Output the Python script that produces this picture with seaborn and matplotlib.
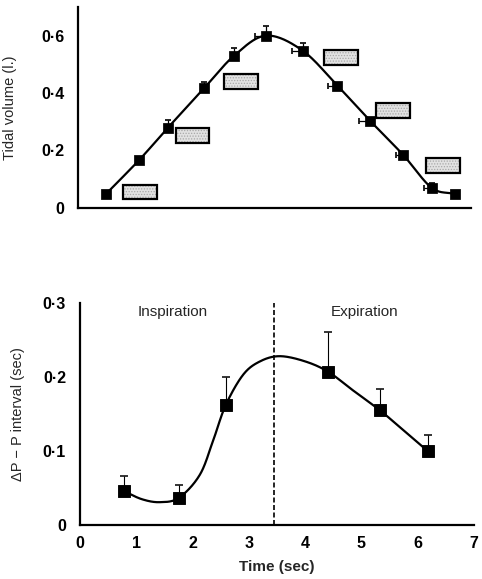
import numpy as np
import pandas as pd
import matplotlib
matplotlib.use("Agg")
import matplotlib.pyplot as plt
from matplotlib.patches import Rectangle
import seaborn as sns

sns.set_theme(style="white")
plt.rcParams['font.family'] = ['Liberation Sans', 'DejaVu Sans']
plt.rcParams['hatch.linewidth'] = 0.6

# ---- Upper panel: tidal volume over the breath ----
vol_time = [0.50, 1.09, 1.60, 2.25, 2.78, 3.35, 4.00, 4.62, 5.20, 5.79, 6.30, 6.71]
vol_litre = [0.049, 0.167, 0.279, 0.418, 0.530, 0.600, 0.548, 0.426, 0.304, 0.185, 0.070, 0.049]
vol_err_up = [0, 0, 0.028, 0.022, 0.028, 0.035, 0.028, 0, 0, 0, 0.017, 0]
vol_err_left = [0, 0, 0, 0, 0, 0.20, 0.19, 0.17, 0.19, 0.12, 0.14, 0]

# shaded boxes: left edge (sec), bottom (l.)
box_left = [0.80, 1.74, 2.60, 4.39, 5.31, 6.20]
box_bottom = [0.031, 0.227, 0.415, 0.499, 0.314, 0.122]
box_w = 0.60
box_h = 0.050

# ---- Lower panel: change in P-P interval ----
pp_time = [0.78, 1.76, 2.59, 4.41, 5.33, 6.18]
pp_delta = [0.046, 0.037, 0.162, 0.207, 0.155, 0.100]
pp_err_up = [0.020, 0.017, 0.038, 0.053, 0.029, 0.021]

# fitted curve through the P-P data
pp_curve_t = [0.78, 1.10, 1.42, 1.76, 2.13, 2.37, 2.59, 2.90, 3.20, 3.55, 4.00, 4.41, 4.85, 5.33, 5.75, 6.18]
pp_curve_v = [0.046, 0.035, 0.031, 0.037, 0.068, 0.115, 0.162, 0.203, 0.221, 0.228, 0.221, 0.207, 0.182, 0.155, 0.128, 0.100]

phase_boundary = 3.45
phase_labels = ["Inspiration", "Expiration"]
phase_label_x = [1.65, 5.06]

vol_ticks = [0, 0.2, 0.4, 0.6]
vol_ticklabels = ["0", "0·2", "0·4", "0·6"]
pp_ticks = [0, 0.1, 0.2, 0.3]
pp_ticklabels = ["0", "0·1", "0·2", "0·3"]
time_ticks = [0, 1, 2, 3, 4, 5, 6, 7]


def smooth(xs, ys, n=30):
    """Catmull-Rom spline through the given knots (for a smooth drawn line)."""
    x = np.asarray(xs, float)
    y = np.asarray(ys, float)
    px = np.concatenate([[2 * x[0] - x[1]], x, [2 * x[-1] - x[-2]]])
    py = np.concatenate([[2 * y[0] - y[1]], y, [2 * y[-1] - y[-2]]])
    outx, outy = [], []
    t = np.linspace(0, 1, n, endpoint=False)
    for i in range(1, len(px) - 2):
        for arr, out in ((px, outx), (py, outy)):
            p0, p1, p2, p3 = arr[i - 1], arr[i], arr[i + 1], arr[i + 2]
            out.extend(0.5 * ((2 * p1) + (-p0 + p2) * t
                              + (2 * p0 - 5 * p1 + 4 * p2 - p3) * t ** 2
                              + (-p0 + 3 * p1 - 3 * p2 + p3) * t ** 3))
    outx.append(x[-1])
    outy.append(y[-1])
    return pd.DataFrame({"t": outx, "v": outy})


fig = plt.figure(figsize=(4.82, 5.79), dpi=100)
ax1 = fig.add_axes([0.162, 0.641, 0.815, 0.347])
ax2 = fig.add_axes([0.166, 0.093, 0.817, 0.384])

lw = 1.6
tick_font = dict(fontsize=11.5, fontweight="bold")

# upper panel
vol_df = pd.DataFrame({"t": vol_time, "v": vol_litre})
sns.lineplot(data=smooth(vol_time, vol_litre), x="t", y="v", ax=ax1,
             color="black", lw=lw, sort=False)
for x, y, eu, el in zip(vol_time, vol_litre, vol_err_up, vol_err_left):
    if eu > 0:
        ax1.errorbar(x, y, yerr=[[0], [eu]], fmt="none", ecolor="black",
                     elinewidth=0.9, capsize=2.5, capthick=1.2)
    if el > 0:
        ax1.errorbar(x, y, xerr=[[el], [0]], fmt="none", ecolor="black",
                     elinewidth=0.9, capsize=2.5, capthick=1.2)
sns.scatterplot(data=vol_df, x="t", y="v", ax=ax1, marker="s", s=45,
                color="black", edgecolor="black", zorder=5)
for bx, by in zip(box_left, box_bottom):
    # stippled fill, then the black outline on top
    ax1.add_patch(Rectangle((bx, by), box_w, box_h, facecolor="#e2e2e2",
                            edgecolor="#a8a8a8", lw=0, hatch="......",
                            zorder=4))
    ax1.add_patch(Rectangle((bx, by), box_w, box_h, facecolor="none",
                            edgecolor="black", lw=1.6, zorder=4.5))

ax1.set_xlim(0, 7)
ax1.set_ylim(0, 0.7)
ax1.set_xticks(time_ticks[1:])
ax1.set_xticklabels([])
ax1.set_yticks(vol_ticks)
ax1.set_yticklabels(vol_ticklabels, **tick_font)
ax1.set_xlabel("")
ax1.set_ylabel("Tidal volume (l.)", fontsize=10.5)
ax1.yaxis.set_label_coords(-0.155, 0.5)

# lower panel
pp_df = pd.DataFrame({"t": pp_time, "v": pp_delta})
sns.lineplot(data=smooth(pp_curve_t, pp_curve_v), x="t", y="v", ax=ax2,
             color="black", lw=lw, sort=False)
ax2.errorbar(pp_time, pp_delta, yerr=[[0] * len(pp_err_up), pp_err_up],
             fmt="none", ecolor="black", elinewidth=0.8, capsize=3,
             capthick=1.1)
sns.scatterplot(data=pp_df, x="t", y="v", ax=ax2, marker="s", s=65,
                color="black", edgecolor="black", zorder=5)
ax2.axvline(phase_boundary, ymin=0, ymax=1, color="black", lw=1.2,
            ls=(0, (3, 1.5)))
for lab, lx in zip(phase_labels, phase_label_x):
    ax2.text(lx, 0.287, lab, ha="center", va="center", fontsize=11)

ax2.set_xlim(0, 7)
ax2.set_ylim(0, 0.3)
ax2.set_xticks(time_ticks)
ax2.set_xticklabels([str(t) for t in time_ticks], **tick_font)
ax2.set_yticks(pp_ticks)
ax2.set_yticklabels(pp_ticklabels, **tick_font)
ax2.set_xlabel("Time (sec)", fontsize=11, fontweight="bold", labelpad=6)
ax2.set_ylabel("ΔP − P interval (sec)", fontsize=10.5)
ax2.yaxis.set_label_coords(-0.14, 0.5)

for ax in (ax1, ax2):
    sns.despine(ax=ax)
    for side in ("left", "bottom"):
        ax.spines[side].set_linewidth(1.6)
        ax.spines[side].set_color("black")
    ax.tick_params(axis="x", direction="in", length=6, width=1.6,
                   colors="black", pad=8)
    ax.tick_params(axis="y", direction="out", length=5, width=1.6,
                   colors="black", pad=5)
    ax.patch.set_alpha(0)

fig.savefig("out.png", dpi=100, facecolor="white")
